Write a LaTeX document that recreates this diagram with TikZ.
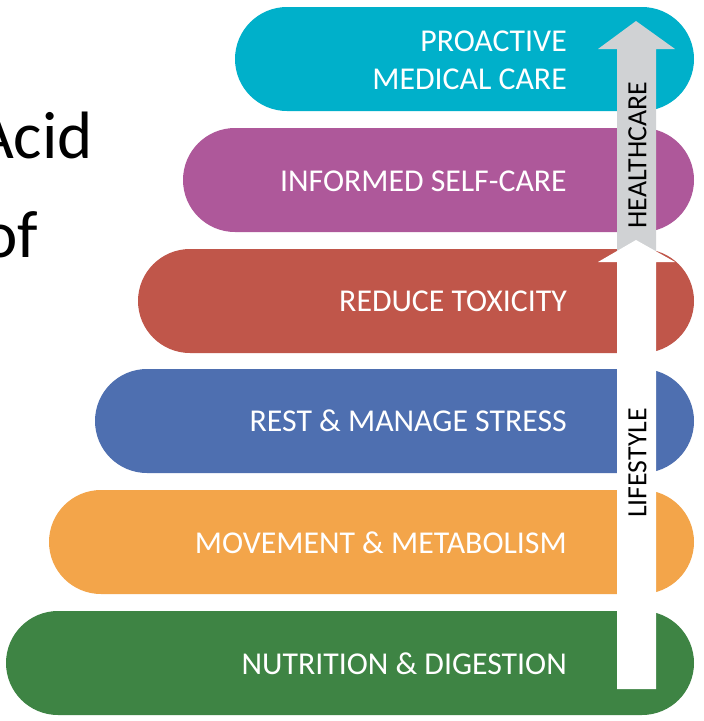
\documentclass[tikz,border=0pt]{standalone}
\usepackage{fontspec}
\setmainfont{Carlito}
\definecolor{cyanbar}{HTML}{00B0CA}
\definecolor{purplebar}{HTML}{AE589A}
\definecolor{redbar}{HTML}{C0564A}
\definecolor{bluebar}{HTML}{4E6FB0}
\definecolor{orangebar}{HTML}{F3A54A}
\definecolor{greenbar}{HTML}{3E8444}
\definecolor{arrowgray}{HTML}{D0D2D4}
\begin{document}
\begin{tikzpicture}[x=1pt,y=-1pt,
  bar/.style={rounded corners=52pt},
  bartext/.style={text=white, font=\fontsize{31.8}{38}\selectfont, anchor=east, inner sep=0pt, align=right},
  arrowtext/.style={text=black, font=\fontsize{27.8}{30}\selectfont, rotate=90, inner sep=0pt},
  titletext/.style={text=black, font=\fontsize{67}{70}\selectfont, anchor=base east, inner sep=0pt}]
\useasboundingbox (0,0) rectangle (704,721);
\fill[white] (0,0) rectangle (704,721);
% bars
\fill[cyanbar, bar] (235,7) rectangle (694,111);
\fill[purplebar, bar] (183,128) rectangle (694,232);
\fill[redbar, bar] (138,249) rectangle (694,353);
\fill[bluebar, bar] (95,369) rectangle (694,473);
\fill[orangebar, bar] (49,490) rectangle (694,594);
\fill[greenbar, bar] (6,611) rectangle (694,715);
% title fragments
\node[titletext] (acid) at (93,158) {Acid};
\node[titletext] (of) at (38,257) {of};
% bar labels
\node[bartext] (proactive) at (567,60) {PROACTIVE\\MEDICAL CARE};
\node[bartext] (informed) at (567,181) {INFORMED SELF-CARE};
\node[bartext] (reduce) at (567,301) {REDUCE TOXICITY};
\node[bartext] (rest) at (567,421) {REST \& MANAGE STRESS};
\node[bartext] (movement) at (567,543) {MOVEMENT \& METABOLISM};
\node[bartext] (nutrition) at (567,664) {NUTRITION \& DIGESTION};
% healthcare arrow (gray)
\fill[arrowgray] (617,256) -- (617,49) -- (598,49) -- (636,21) -- (675,49) -- (656,49) -- (656,256) -- cycle;
% lifestyle arrow (white)
\fill[white] (617,689) -- (617,262) -- (598,262) -- (636,240) -- (675,262) -- (656,262) -- (656,689) -- cycle;
% arrow labels
\node[arrowtext] (healthcare) at (637.5,155) {HEALTHCARE};
\node[arrowtext] (lifestyle) at (637.5,463) {LIFESTYLE};
\end{tikzpicture}
\end{document}
